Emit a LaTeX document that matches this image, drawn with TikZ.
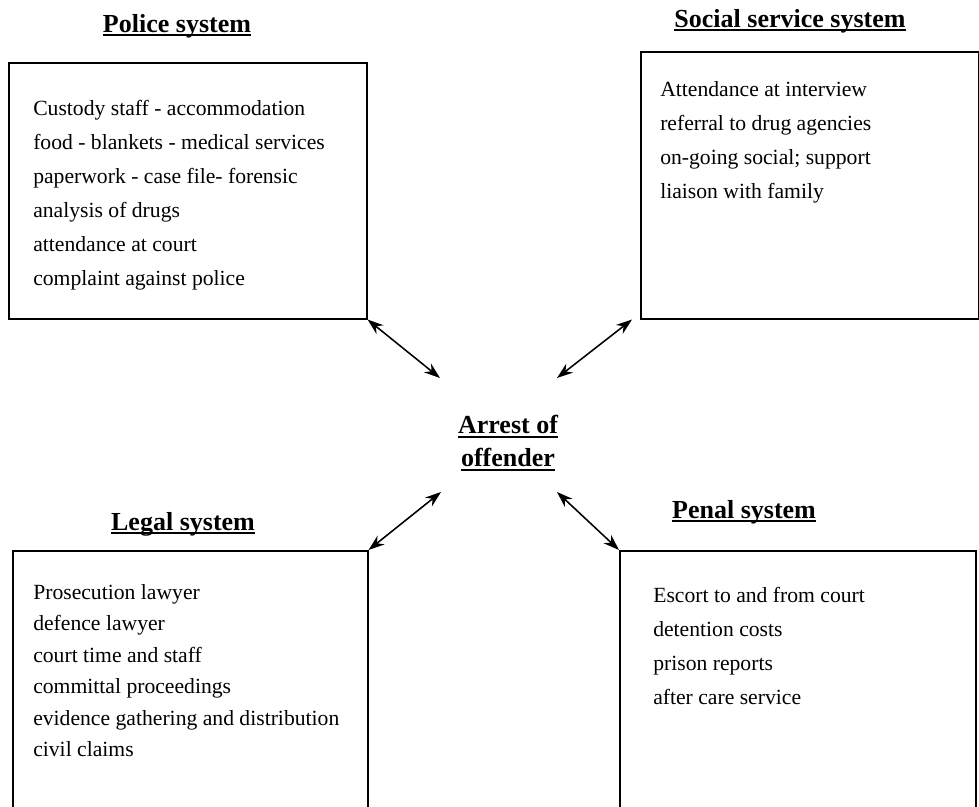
\documentclass[tikz,border=0pt]{standalone}
\usepackage{fontspec}
\setmainfont{Liberation Serif}
\usetikzlibrary{arrows.meta,positioning}
\newcommand{\ulhead}[1]{\leavevmode\setbox0\hbox{#1}\rlap{\rule[-3pt]{\wd0}{1.4pt}}\box0}

\begin{document}
\begin{tikzpicture}[y=-1cm,
      sysbox/.style={draw=black,line width=1.1pt,anchor=north west,inner sep=0pt},
      items/.style={align=left,inner sep=0pt,font=\fontsize{15.4}{24.2}\selectfont},
      head/.style={anchor=base,inner sep=0pt,font=\fontsize{18.5}{24}\selectfont\bfseries},
      link/.style={{Stealth[length=4mm,width=2.8mm]}-{Stealth[length=4mm,width=2.8mm]},line width=1.1pt}
    ]
    \useasboundingbox (0,0) rectangle (24.475,20.175);
    \clip (0,0) rectangle (24.475,20.175);
    % the four systems
    \node[sysbox,minimum width=8.95cm,minimum height=6.4cm] (police) at (0.2,1.55) {};
    \node[sysbox,minimum width=8.45cm,minimum height=6.675cm] (social) at (16.0,1.275) {};
    \node[sysbox,minimum width=8.875cm,minimum height=7.5cm] (legal) at (0.3,13.75) {};
    \node[sysbox,minimum width=8.9cm,minimum height=7.5cm] (penal) at (15.475,13.75) {};
    \node[head] (policehead) at (4.425,0.8) {\ulhead{Police system}};
    \node[head] (socialhead) at (19.75,0.68) {\ulhead{Social service system}};
    \node[head] (legalhead) at (4.575,13.25) {\ulhead{Legal system}};
    \node[head] (penalhead) at (18.6,12.95) {\ulhead{Penal system}};
    \node[items,below right=0.95cm and 0.625cm of police.north west] (policeitems)
      {Custody staff - accommodation\\food - blankets - medical services\\paperwork - case file- forensic\\analysis of drugs\\attendance at court\\complaint against police};
    \node[items,below right=0.755cm and 0.5cm of social.north west] (socialitems)
      {Attendance at interview\\referral to drug agencies\\on-going social; support\\liaison with family};
    \node[items,font=\fontsize{15.4}{22.4}\selectfont,below right=0.85cm and 0.525cm of legal.north west] (legalitems)
      {Prosecution lawyer\\defence lawyer\\court time and staff\\committal proceedings\\evidence gathering and distribution\\civil claims};
    \node[items,below right=0.925cm and 0.85cm of penal.north west] (penalitems)
      {Escort to and from court\\detention costs\\prison reports\\after care service};
    % centre
    \node[head,anchor=center,align=center,font=\fontsize{18.5}{23.5}\selectfont\bfseries] (arrest) at (12.7,11.07)
      {\ulhead{Arrest of}\\\ulhead{offender}};
    \coordinate (hubnw) at (11.0,9.45);
    \coordinate (hubne) at (13.925,9.45);
    \coordinate (hubsw) at (11.025,12.3);
    \coordinate (hubse) at (13.925,12.3);
    \draw[link] (police.south east) -- (hubnw);
    \draw[link] ([xshift=-0.2cm]social.south west) -- (hubne);
    \draw[link] (legal.north east) -- (hubsw);
    \draw[link] (penal.north west) -- (hubse);
  \end{tikzpicture}
\end{document}
